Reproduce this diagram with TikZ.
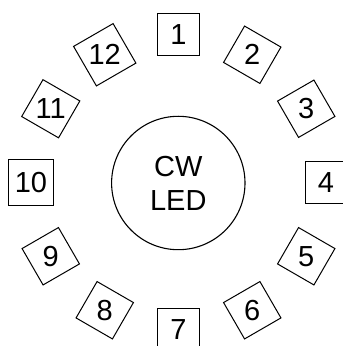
\documentclass[tikz,border=0pt]{standalone}
\usepackage{fontspec}
\setmainfont{Liberation Sans}
\usepackage{tikz}
\usetikzlibrary{shapes.geometric,calc}
\tikzset{
  lamp/.style={regular polygon, regular polygon sides=4, draw=black,
               line width=1pt, minimum size=59.4pt, inner sep=0pt,
               shape border rotate=#1},
  ledring/.style={circle, draw=black, line width=1.1pt, minimum size=133.4pt,
                  inner sep=0pt, align=center},
}
\newcommand{\bigtxt}{\fontsize{29}{34}\selectfont}

\begin{document}
\begin{tikzpicture}[x=1pt, y=1pt, font=\bigtxt]
\useasboundingbox (0,0) rectangle (343,346);
\clip (0,0) rectangle (343,346);
% ---------- the LED in the middle ----------------------------------------
\node[ledring] (led) at (178.3,163) {CW\\LED};
% ---------- twelve pads round it, one per clock hour ---------------------
\foreach \k in {1,...,12}{
  \pgfmathsetmacro{\ang}{120-30*\k}
  \node[lamp=\ang] (s\k) at ($(178.5,163.5)+(\ang:147.5)$) {\k};}
\end{tikzpicture}
\end{document}
